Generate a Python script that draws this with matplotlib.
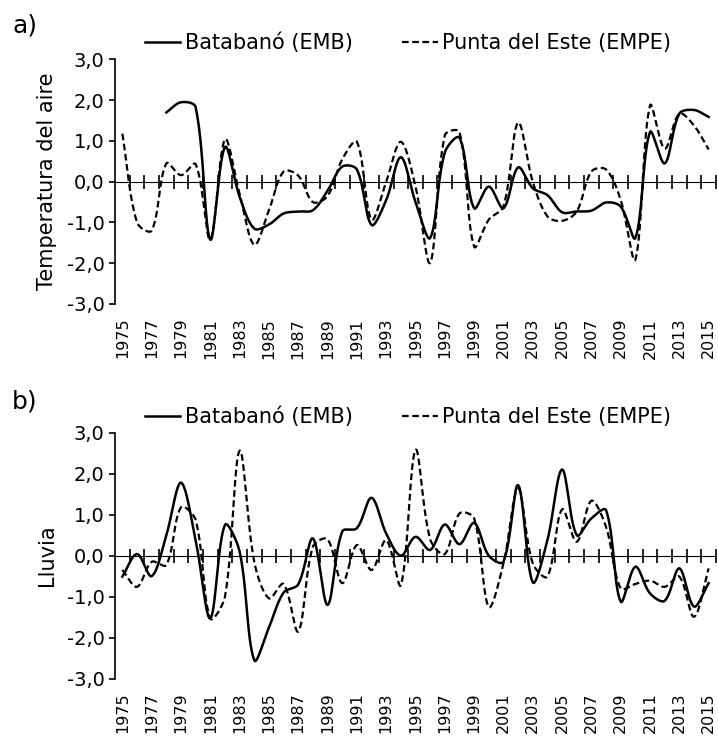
import numpy as np
import matplotlib
matplotlib.use("Agg")
import matplotlib.pyplot as plt

years = np.arange(1975, 2016)

# a) air temperature anomalies; EMB series starts in 1978
temp_emb_start = 1978
temp_emb = [1.70, 1.95, 1.83, -1.42, 0.85, -0.37, -1.15, -1.05, -0.78, -0.73,
            -0.70, -0.22, 0.37, 0.30, -1.06, -0.45, 0.60, -0.50, -1.38, 0.72,
            1.08, -0.65, -0.12, -0.65, 0.35, -0.16, -0.33, -0.75, -0.73, -0.71,
            -0.51, -0.61, -1.38, 1.22, 0.45, 1.67, 1.76, 1.59]
temp_empe = [1.18, -1.00, -1.20, 0.45, 0.16, 0.43, -1.42, 1.04, -0.30, -1.55,
             -0.70, 0.25, 0.15, -0.50, -0.35, 0.55, 0.98, -0.93, 0.00, 0.98,
             -0.12, -1.99, 1.14, 1.22, -1.59, -0.93, -0.61, 1.45, 0.00, -0.85,
             -0.96, -0.73, 0.25, 0.30, -0.45, -1.91, 1.87, 0.81, 1.67, 1.38, 0.79]

# b) rainfall anomalies
rain_emb = [-0.51, 0.04, -0.50, 0.50, 1.78, 0.38, -1.53, 0.75, 0.10, -2.55,
            -1.75, -0.90, -0.70, 0.42, -1.20, 0.59, 0.67, 1.41, 0.54, 0.00,
            0.46, 0.14, 0.76, 0.28, 0.80, 0.00, -0.15, 1.72, -0.65, 0.38,
            2.10, 0.50, 0.91, 1.11, -1.12, -0.27, -0.92, -1.10, -0.31, -1.24, -0.67]
rain_empe = [-0.35, -0.76, -0.15, -0.23, 1.18, 0.87, -1.53, -1.00, 2.56, -0.15,
             -1.04, -0.69, -1.85, 0.22, 0.40, -0.67, 0.26, -0.35, 0.38, -0.72,
             2.58, 0.40, 0.04, 1.03, 0.91, -1.25, -0.19, 1.64, -0.19, -0.51,
             1.13, 0.34, 1.34, 0.70, -0.80, -0.69, -0.61, -0.76, -0.51, -1.49, -0.31]

label_emb = "Batabanó (EMB)"
label_empe = "Punta del Este (EMPE)"
yticks = [-3, -2, -1, 0, 1, 2, 3]

PX_PER_YEAR = 14.66
PX_PER_UNIT = 41.0


def smooth(x, y, n=30):
    # bezier smoothing in screen space, tangents split by chord length
    # (close to what excel does for "smoothed line")
    P = np.column_stack([(np.asarray(x, float) - x[0]) * PX_PER_YEAR,
                         np.asarray(y, float) * PX_PER_UNIT])
    m = len(P)
    Pext = np.vstack([P[0], P, P[-1]])
    c_out = np.zeros_like(P)
    c_in = np.zeros_like(P)
    for i in range(m):
        prev, cur, nxt = Pext[i], Pext[i + 1], Pext[i + 2]
        T = nxt - prev
        dp = np.hypot(*(cur - prev))
        dn = np.hypot(*(nxt - cur))
        tot = dp + dn if dp + dn > 0 else 1.0
        c_out[i] = cur + T * (dn / tot) / 3.0
        c_in[i] = cur - T * (dp / tot) / 3.0
    t = np.linspace(0, 1, n, endpoint=False)[:, None]
    segs = []
    for i in range(m - 1):
        b = ((1 - t) ** 3 * P[i] + 3 * (1 - t) ** 2 * t * c_out[i]
             + 3 * (1 - t) * t ** 2 * c_in[i + 1] + t ** 3 * P[i + 1])
        segs.append(b)
    segs.append(P[-1:])
    S = np.vstack(segs)
    return S[:, 0] / PX_PER_YEAR + x[0], S[:, 1] / PX_PER_UNIT


def style_panel(ax, ylabel):
    ax.set_xlim(1974.5, 2015.5)
    ax.set_ylim(-3, 3)
    for s in ["top", "right", "bottom"]:
        ax.spines[s].set_visible(False)
    ax.spines["left"].set_linewidth(1.2)
    ax.set_yticks(yticks)
    ax.set_yticklabels([f"{v:.1f}".replace(".", ",") for v in yticks], fontsize=14)
    ax.tick_params(axis="y", direction="out", length=4.5, width=1.2, pad=3)
    ax.set_xticks(years[::2])
    ax.set_xticklabels([str(y) for y in years[::2]], rotation=90, fontsize=11.5)
    ax.tick_params(axis="x", length=0, pad=10)
    # zero line with crossing ticks between categories
    sec = ax.secondary_xaxis(0.5)
    half = np.arange(1975.5, 2016, 1.0)
    sec.set_xticks(half, labels=[""] * len(half))
    sec.tick_params(direction="inout", length=9.5, width=1.2)
    sec.spines["bottom"].set_linewidth(1.2)
    ax.text(-0.113, 0.5, ylabel, transform=ax.transAxes, rotation=90,
            ha="center", va="center", fontsize=15)


fig = plt.figure(figsize=(7.18, 7.36), dpi=100)
ax_a = fig.add_axes([0.1602, 0.5870, 0.837, 0.3322])
ax_b = fig.add_axes([0.1602, 0.0779, 0.837, 0.3342])

panels = [
    (ax_a, np.arange(temp_emb_start, 2016), temp_emb, temp_empe,
     "Temperatura del aire", "a)", 25, 43),
    (ax_b, years, rain_emb, rain_empe, "Lluvia", "b)", 402, 417),
]

for ax, x_emb, emb, empe, ylabel, tag, tag_y, leg_y in panels:
    sx, sy = smooth(x_emb, emb)
    l1, = ax.plot(sx, sy, color="black", lw=1.8, label=label_emb)
    sx, sy = smooth(years, empe)
    l2, = ax.plot(sx, sy, color="black", lw=1.6, ls="--", dashes=(3, 1.6),
                  label=label_empe)
    style_panel(ax, ylabel)
    ax.legend(handles=[l1, l2], loc="center left",
              bbox_to_anchor=(145 / 718, 1 - leg_y / 736),
              bbox_transform=fig.transFigure, ncol=2, frameon=False,
              fontsize=15, handlelength=1.7, handletextpad=0.2,
              columnspacing=2.4, borderpad=0, borderaxespad=0)
    fig.text(12 / 718, 1 - tag_y / 736, tag, fontsize=18, ha="left", va="center")

fig.savefig("out.png", dpi=100)
